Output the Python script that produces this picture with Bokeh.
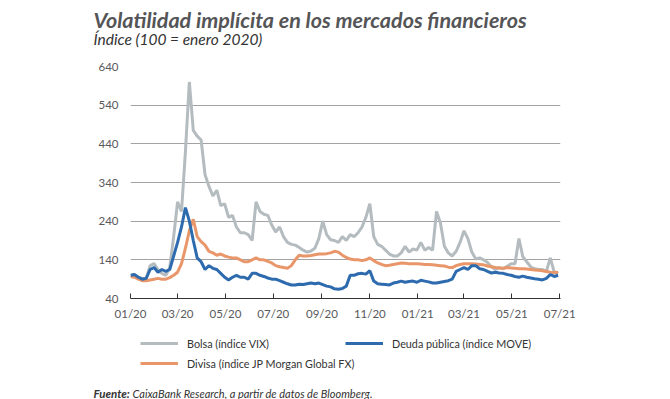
import pandas as pd
from bokeh.plotting import figure
from bokeh.layouts import column
from bokeh.models import (Range1d, MonthsTicker, DatetimeTickFormatter, Label,
                          Legend, LegendItem, FixedTicker)
from bokeh.embed import file_html
from bokeh.resources import INLINE

# fechas cada 5 días desde 01/01/2020
fechas = pd.date_range("2020-01-01", periods=110, freq="5D")

bolsa_vix = [100, 98, 95, 92, 92, 125, 130, 115, 105, 100,
             120, 200, 290, 265, 420, 600, 475, 460, 450, 360,
             330, 305, 320, 280, 285, 250, 255, 225, 210, 210,
             205, 190, 290, 265, 258, 255, 230, 212, 225, 200,
             185, 180, 178, 172, 165, 160, 163, 170, 195, 240,
             205, 192, 190, 185, 200, 190, 205, 200, 210, 225,
             250, 285, 200, 180, 175, 165, 155, 150, 150, 158,
             175, 160, 168, 165, 185, 165, 172, 165, 265, 235,
             175, 158, 150, 162, 185, 215, 195, 160, 142, 145,
             140, 133, 122, 115, 120, 117, 123, 130, 130, 195,
             148, 135, 122, 117, 115, 115, 110, 145, 108, 105]

deuda_move = [100, 102, 95, 90, 92, 115, 120, 108, 115, 110,
              115, 150, 185, 225, 275, 240, 190, 145, 135, 115,
              125, 118, 115, 105, 95, 88, 95, 100, 95, 95,
              90, 105, 105, 100, 97, 93, 90, 90, 86, 82,
              78, 75, 75, 77, 76, 78, 80, 78, 80, 76,
              72, 70, 65, 64, 66, 72, 100, 100, 104, 105,
              103, 112, 85, 78, 77, 76, 75, 80, 82, 85,
              82, 84, 85, 82, 87, 85, 83, 80, 80, 82,
              84, 86, 90, 110, 115, 120, 115, 125, 125, 117,
              115, 110, 106, 108, 106, 105, 102, 100, 97, 95,
              98, 95, 93, 91, 90, 88, 92, 102, 97, 100]

divisa_fx = [97, 95, 90, 86, 86, 88, 90, 92, 90, 90,
             94, 100, 108, 130, 170, 215, 245, 200, 187, 178,
             162, 158, 152, 155, 150, 147, 145, 145, 140, 135,
             135, 140, 145, 140, 140, 136, 132, 125, 122, 120,
             118, 125, 140, 152, 150, 150, 151, 153, 155, 155,
             156, 158, 162, 160, 152, 146, 142, 140, 140, 138,
             140, 145, 138, 132, 128, 125, 126, 128, 130, 132,
             131, 130, 130, 130, 129, 128, 128, 127, 126, 125,
             124, 121, 120, 125, 128, 130, 130, 130, 129, 128,
             127, 124, 122, 120, 119, 118, 120, 119, 118, 117,
             117, 116, 115, 114, 113, 112, 110, 108, 107, 108]

y_ticks = [40, 140, 240, 340, 440, 540, 640]

titulo = "Volatilidad implícita en los mercados financieros"
subtitulo = "Índice (100 = enero 2020)"
nombres = ["Bolsa (índice VIX)", "Deuda pública (índice MOVE)",
           "Divisa (índice JP Morgan Global FX)"]
colores = ["#b4bcc0", "#2d6bae", "#e9966a"]
fuente_1 = "Fuente:"
fuente_2 = "CaixaBank Research, a partir de datos de Bloomberg."

TXT = "#58595b"
FONT = "Lato"
W = 670
H_HEAD, H_MAIN, H_FOOT = 58, 272, 69


def blank(h):
    f = figure(width=W, height=h, output_backend="svg", toolbar_location=None,
               x_range=Range1d(0, W), y_range=Range1d(h, 0),
               x_axis_type=None, y_axis_type=None,
               min_border_left=0, min_border_right=0,
               min_border_top=0, min_border_bottom=0, frame_align=False)
    f.outline_line_color = None
    f.xgrid.grid_line_color = None
    f.ygrid.grid_line_color = None
    return f


# cabecera
head = blank(H_HEAD)
head.add_layout(Label(x=93, y=19, text=titulo, text_font=FONT, text_font_size="21.5px",
                      text_font_style="bold italic", text_color="#555557",
                      text_baseline="alphabetic"))
head.add_layout(Label(x=93, y=38, text=subtitulo, text_font=FONT, text_font_size="15.5px",
                      text_font_style="italic", text_color="#333333",
                      text_baseline="alphabetic"))

# gráfico principal
p = figure(width=W, height=H_MAIN, x_axis_type="datetime",
           output_backend="svg", toolbar_location=None,
           x_range=Range1d(pd.Timestamp("2020-01-01"), pd.Timestamp("2021-07-02")),
           y_range=Range1d(40, 640),
           min_border_left=130, min_border_right=110,
           min_border_top=8, min_border_bottom=32, frame_align=False)
p.outline_line_color = None

p.line(fechas, bolsa_vix, line_color=colores[0], line_width=3)
p.line(fechas, divisa_fx, line_color=colores[2], line_width=3)
p.line(fechas, deuda_move, line_color=colores[1], line_width=3)

p.xgrid.grid_line_color = None
p.ygrid.grid_line_color = "#a3a3a3"
p.ygrid.grid_line_width = 1
p.yaxis.ticker = FixedTicker(ticks=y_ticks)
p.yaxis.axis_line_color = None
p.yaxis.major_tick_line_color = None
p.yaxis.minor_tick_line_color = None
p.yaxis.major_tick_in = 0
p.yaxis.major_tick_out = 0
p.yaxis.major_label_standoff = 12
p.yaxis.major_label_text_font = FONT
p.yaxis.major_label_text_font_size = "11.5px"
p.yaxis.major_label_text_color = TXT

p.xaxis.ticker = MonthsTicker(months=[0, 2, 4, 6, 8, 10])
p.xaxis.formatter = DatetimeTickFormatter(months="%m/%y", days="%m/%y", years="%m/%y")
p.xaxis.axis_line_color = "#333333"
p.xaxis.major_tick_line_color = "#333333"
p.xaxis.major_tick_in = 5
p.xaxis.major_tick_out = 0
p.xaxis.minor_tick_line_color = None
p.xaxis.major_label_standoff = 8
p.xaxis.major_label_text_font = FONT
p.xaxis.major_label_text_font_size = "11.5px"
p.xaxis.major_label_text_color = TXT

# pie: leyenda y fuente
foot = blank(H_FOOT)
nan = float("nan")
muestras = [foot.line([nan, nan], [nan, nan], line_color=c, line_width=3) for c in colores]
common = dict(border_line_alpha=0, background_fill_alpha=0, glyph_width=38,
              glyph_height=14, label_text_font=FONT, label_text_font_size="10.8px",
              label_text_color="#333333", label_standoff=9, padding=0, margin=0,
              label_height=14)
for nombre, r, loc in zip(nombres, muestras, [(140, 49), (345, 49), (140, 29)]):
    foot.add_layout(Legend(items=[LegendItem(label=nombre, renderers=[r])],
                           location=loc, **common), "center")
foot.add_layout(Label(x=93, y=63, text=fuente_1, text_font=FONT, text_font_size="11.5px",
                      text_font_style="bold italic", text_color="#333333",
                      text_baseline="alphabetic"))
foot.add_layout(Label(x=132, y=63, text=fuente_2, text_font=FONT, text_font_size="11px",
                      text_font_style="italic", text_color="#333333",
                      text_baseline="alphabetic"))

layout = column(head, p, foot, spacing=0)
open("out.html", "w").write(file_html(layout, INLINE))
